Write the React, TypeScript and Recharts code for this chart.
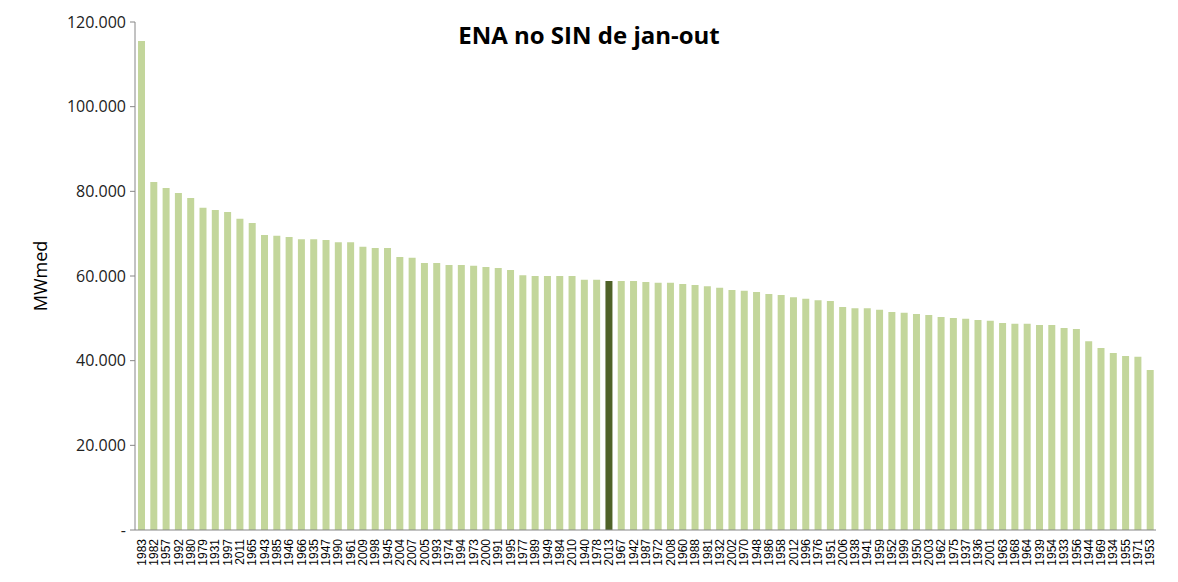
import React from 'react';
import { BarChart, Bar, XAxis, YAxis, Cell } from 'recharts';

// anos ordenados pela ENA (maior -> menor)
const years = [
  '1983', '1982', '1957', '1992', '1980', '1979', '1931', '1997', '2011', '1965',
  '1943', '1985', '1946', '1966', '1935', '1947', '1990', '1961', '2009', '1998',
  '1945', '2004', '2007', '2005', '1993', '1974', '1994', '1973', '2000', '1991',
  '1995', '1977', '1989', '1949', '1984', '2010', '1940', '1978', '2013', '1967',
  '1942', '1987', '1972', '2008', '1960', '1988', '1981', '1932', '2002', '1970',
  '1948', '1986', '1958', '2012', '1996', '1976', '1951', '2006', '1938', '1941',
  '1959', '1952', '1999', '1950', '2003', '1962', '1975', '1937', '1936', '2001',
  '1963', '1968', '1964', '1939', '1954', '1933', '1956', '1944', '1969', '1934',
  '1955', '1971', '1953',
];

// MWmed
const ena = [
  115500, 82200, 80800, 79600, 78400, 76100, 75600, 75100, 73500, 72500,
  69700, 69500, 69200, 68700, 68700, 68500, 68000, 68000, 66900, 66600,
  66600, 64500, 64300, 63100, 63100, 62600, 62600, 62400, 62100, 61900,
  61400, 60200, 60000, 60000, 60000, 60000, 59100, 59100, 58800, 58800,
  58800, 58600, 58400, 58400, 58100, 57900, 57600, 57200, 56700, 56500,
  56200, 55750, 55500, 55000, 54600, 54300, 54100, 52700, 52400, 52400,
  52000, 51500, 51300, 51000, 50800, 50300, 50100, 49900, 49600, 49400,
  48900, 48700, 48700, 48400, 48400, 47700, 47500, 44600, 43000, 41800,
  41100, 40900, 37800,
];

const highlightYear = '2013';
const yTicks = [0, 20000, 40000, 60000, 80000, 100000, 120000];

const data = years.map((y, i) => ({ year: y, ena: ena[i], pos: i + 0.5 }));
const dividerTicks = years.map((_, i) => i).concat([years.length]);

const fmtY = (v: number) => (v === 0 ? '-' : `${v / 1000}.000`);

const App: React.FC = () => {
  return (
    <div style={{ position: 'absolute', left: 0, top: 0, width: 1178, height: 582, background: '#fff', fontFamily: 'Open Sans, sans-serif' }}>
      <div style={{ position: 'absolute', top: 18, left: 0, width: 1178, textAlign: 'center', fontSize: 24, fontWeight: 'bold', color: '#000', fontFamily: 'Open Sans, sans-serif' }}>
        ENA no SIN de jan-out
      </div>
      <BarChart
        width={1178}
        height={582}
        data={data}
        margin={{ top: 22, right: 22, left: 0, bottom: 0 }}
        barSize={7}
      >
        <XAxis
          xAxisId="cat"
          dataKey="year"
          interval={0}
          angle={-90}
          textAnchor="end"
          height={52}
          tick={{ fontSize: 12, fill: '#000', fontFamily: 'Liberation Sans, Arial, sans-serif' }}
          tickLine={false}
          tickMargin={7}
          axisLine={{ stroke: '#868686' }}
          dx={-4}
          dy={-4}
        />
        <XAxis
          xAxisId="div"
          type="number"
          dataKey="pos"
          domain={[0, years.length]}
          ticks={dividerTicks}
          tick={false}
          tickLine={{ stroke: '#868686' }}
          tickSize={5}
          axisLine={false}
          height={0}
          orientation="bottom"
        />
        <YAxis
          domain={[0, 120000]}
          ticks={yTicks}
          width={135}
          tickFormatter={fmtY}
          tick={{ fontSize: 16, fill: '#222' }}
          tickLine={{ stroke: '#868686' }}
          tickSize={5}
          tickMargin={4}
          axisLine={{ stroke: '#868686' }}
          label={{ value: 'MWmed', angle: -90, position: 'insideLeft', offset: 41, style: { fontSize: 18, fill: '#000', textAnchor: 'middle' } }}
        />
        <Bar xAxisId="cat" dataKey="ena" isAnimationActive={false}>
          {data.map((d) => (
            <Cell key={d.year} fill={d.year === highlightYear ? '#4F6228' : '#C3D69B'} />
          ))}
        </Bar>
      </BarChart>
    </div>
  );
};

export default App;
